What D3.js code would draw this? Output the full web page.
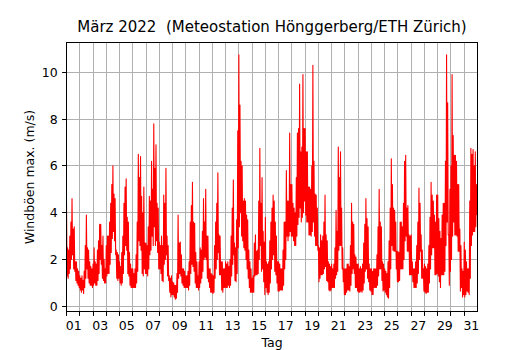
<!DOCTYPE html>
<html><head><meta charset="utf-8">
<script src="https://cdn.jsdelivr.net/npm/d3@7"></script>
<style>
body{margin:0;background:#fff}
svg text{font-family:"DejaVu Sans",sans-serif;fill:#000}
</style>
</head><body><svg id="chart" width="530" height="350"></svg>
<script>
// ---------- data ----------
const titleText = "März 2022  (Meteostation Hönggerberg/ETH Zürich)";
const xLabelText = "Tag";
const yLabelText = "Windböen max. (m/s)";
const startDate = Date.UTC(2022, 2, 1);   // 1 March 2022 00:00
const endDate = Date.UTC(2022, 3, 1);     // 1 April 2022 00:00
const binHours = 2;                       // 12 two-hour bins per day
const dayLabels = ["01","03","05","07","09","11","13","15","17","19","21","23","25","27","29","31"];
const yTicks = [0, 2, 4, 6, 8, 10];
// highest gust (m/s) seen in each 2-hour bin, one row per day (00h ... 22h)
const gustHighByDay = [
  [4.4, 2.5, 2.4, 3.0, 3.6, 4.6, 3.3, 3.4, 1.9, 1.9, 1.6, 1.5],
  [1.3, 1.2, 1.3, 1.1, 1.5, 2.6, 3.9, 2.5, 2.4, 1.9, 1.7, 1.6],
  [1.8, 2.5, 1.9, 1.8, 2.4, 2.8, 3.5, 3.5, 2.6, 3.0, 2.0, 1.6],
  [2.6, 3.0, 3.0, 3.6, 4.4, 5.2, 6.0, 4.8, 4.6, 2.4, 2.3, 2.2],
  [1.9, 1.7, 2.3, 3.0, 4.4, 5.1, 5.45, 3.8, 3.6, 2.3, 1.8, 1.6],
  [1.6, 1.4, 1.6, 2.2, 3.6, 6.5, 5.5, 6.4, 4.7, 4.0, 5.1, 2.7],
  [2.7, 2.6, 3.4, 4.7, 4.5, 6.2, 5.0, 7.8, 5.9, 6.9, 4.4, 4.2],
  [2.75, 2.6, 3.0, 2.6, 4.75, 4.4, 5.9, 3.0, 2.6, 1.3, 1.2, 1.3],
  [1.05, 1.0, 0.9, 0.9, 1.4, 3.9, 2.7, 2.75, 2.2, 1.6, 1.6, 1.5],
  [1.3, 1.3, 1.5, 1.9, 3.6, 4.3, 5.3, 3.6, 3.55, 2.3, 1.9, 1.3],
  [1.9, 2.5, 2.4, 3.2, 4.6, 3.6, 5.0, 3.0, 3.0, 1.6, 1.6, 1.4],
  [1.35, 1.3, 2.6, 3.6, 4.4, 5.7, 3.05, 3.0, 1.9, 1.9, 1.6, 1.6],
  [1.9, 1.8, 1.9, 1.7, 2.0, 3.0, 4.2, 5.4, 2.7, 2.5, 3.7, 7.5],
  [10.75, 8.6, 6.2, 6.0, 4.5, 4.6, 4.5, 3.9, 3.7, 2.4, 1.9, 1.6],
  [1.2, 1.3, 2.7, 3.05, 2.35, 2.4, 4.5, 6.75, 4.4, 5.5, 3.2, 2.75],
  [3.8, 1.9, 1.8, 1.9, 2.8, 3.6, 4.2, 4.75, 4.5, 3.6, 3.0, 1.9],
  [1.9, 1.8, 1.6, 1.6, 2.4, 3.6, 3.6, 5.8, 4.5, 4.5, 7.4, 5.2],
  [5.2, 4.4, 4.2, 4.0, 5.5, 7.4, 7.6, 9.5, 6.6, 6.8, 9.9, 7.6],
  [7.6, 6.6, 6.6, 5.1, 5.1, 5.0, 6.0, 10.3, 6.2, 4.8, 4.75, 4.2],
  [2.6, 2.5, 3.05, 2.8, 3.0, 3.6, 4.75, 3.05, 2.8, 1.9, 1.8, 1.7],
  [1.8, 1.6, 1.8, 2.5, 4.1, 3.2, 6.8, 5.5, 6.6, 4.2, 2.5, 1.6],
  [1.6, 1.6, 1.8, 1.8, 1.7, 2.6, 4.4, 3.6, 3.5, 2.2, 2.1, 1.8],
  [1.8, 1.6, 1.7, 1.6, 1.8, 2.7, 3.5, 4.6, 3.75, 3.4, 1.8, 1.6],
  [1.6, 1.5, 1.6, 1.6, 1.6, 2.2, 3.4, 5.0, 3.6, 3.4, 1.9, 1.8],
  [1.6, 1.5, 1.4, 1.9, 2.8, 4.2, 6.3, 5.2, 4.2, 4.1, 3.6, 2.35],
  [2.35, 2.3, 3.6, 3.6, 3.4, 4.4, 6.2, 6.45, 4.2, 4.3, 3.05, 3.0],
  [3.05, 1.9, 1.6, 1.6, 1.9, 2.6, 3.6, 5.05, 4.4, 3.05, 2.4, 1.6],
  [1.8, 1.7, 1.6, 1.8, 2.6, 3.8, 5.3, 4.75, 4.5, 3.9, 3.6, 4.75],
  [4.75, 3.75, 3.2, 2.9, 3.9, 4.4, 4.4, 6.2, 10.75, 8.7, 3.05, 5.0],
  [6.0, 9.9, 7.3, 6.45, 6.45, 6.2, 5.2, 5.2, 3.3, 2.6, 1.6, 1.5],
  [2.75, 2.4, 1.9, 1.6, 1.6, 4.5, 6.75, 6.5, 6.7, 6.0, 6.6, 5.2]
];
// lowest gust (m/s) seen in each 2-hour bin
const gustLowByDay = [
  [1.3, 1.2, 1.4, 1.6, 2.0, 2.2, 1.6, 1.5, 1.1, 1.0, 0.9, 0.8],
  [0.7, 0.6, 0.7, 0.55, 0.8, 1.2, 1.6, 1.2, 1.0, 0.9, 0.9, 0.8],
  [0.9, 1.0, 0.9, 0.9, 1.1, 1.4, 2.0, 1.8, 1.2, 1.1, 1.0, 1.0],
  [1.3, 1.4, 1.4, 1.8, 2.3, 2.9, 3.2, 2.8, 2.2, 1.2, 1.1, 1.2],
  [1.0, 0.9, 1.0, 1.4, 2.2, 2.6, 2.4, 1.4, 1.3, 0.9, 0.8, 0.8],
  [0.8, 0.8, 0.8, 1.0, 1.5, 2.8, 2.6, 2.4, 1.4, 1.3, 1.6, 1.4],
  [1.4, 1.3, 1.6, 2.2, 2.4, 3.0, 2.6, 3.4, 2.6, 2.8, 2.3, 1.6],
  [1.6, 1.4, 1.1, 1.05, 1.8, 2.0, 2.2, 1.3, 1.1, 0.6, 0.4, 0.5],
  [0.5, 0.4, 0.3, 0.35, 0.6, 1.2, 1.4, 1.3, 1.0, 0.9, 0.8, 0.8],
  [0.8, 0.8, 0.7, 0.9, 1.4, 1.8, 1.7, 1.5, 1.0, 0.8, 0.8, 0.7],
  [0.8, 1.0, 1.2, 1.5, 2.0, 2.1, 2.0, 1.2, 1.05, 0.8, 0.6, 0.6],
  [0.55, 0.6, 1.2, 1.6, 2.0, 2.3, 1.35, 1.35, 0.7, 0.6, 0.8, 0.8],
  [0.8, 0.8, 0.9, 0.8, 0.9, 1.3, 1.8, 2.2, 1.1, 1.05, 1.4, 2.5],
  [3.4, 4.0, 3.0, 2.8, 2.5, 2.4, 2.0, 1.6, 1.2, 0.8, 0.6, 0.6],
  [0.6, 0.6, 1.3, 1.35, 1.35, 1.4, 2.0, 2.6, 1.5, 1.6, 1.05, 0.5],
  [0.8, 0.6, 0.5, 0.6, 1.0, 1.6, 2.0, 2.2, 1.5, 1.35, 1.0, 0.65],
  [0.65, 0.7, 0.7, 0.7, 0.9, 1.6, 2.0, 3.0, 2.8, 3.0, 3.2, 3.0],
  [3.0, 2.8, 2.6, 2.6, 3.0, 3.5, 3.8, 4.2, 3.6, 3.8, 4.0, 4.5],
  [3.9, 3.6, 3.6, 3.05, 3.05, 3.0, 3.2, 3.6, 3.0, 2.6, 2.6, 2.4],
  [1.05, 1.2, 1.35, 1.35, 1.4, 1.6, 1.7, 1.1, 1.05, 0.7, 0.65, 0.7],
  [0.8, 0.8, 0.8, 1.2, 1.35, 1.5, 2.4, 2.6, 2.6, 1.6, 1.05, 0.5],
  [0.5, 0.6, 0.7, 0.7, 0.65, 0.9, 1.4, 1.6, 1.4, 0.8, 0.8, 0.65],
  [0.6, 0.6, 0.65, 0.6, 0.7, 1.0, 1.5, 1.6, 1.2, 1.05, 0.7, 0.65],
  [0.5, 0.5, 0.8, 0.8, 0.8, 0.9, 1.3, 1.6, 1.6, 1.1, 0.65, 0.7],
  [0.6, 0.5, 0.4, 0.35, 0.8, 1.6, 2.6, 2.4, 2.35, 2.35, 1.6, 1.05],
  [1.05, 1.1, 1.6, 1.6, 1.6, 2.0, 2.8, 3.0, 2.35, 2.35, 1.35, 1.35],
  [1.35, 1.05, 0.8, 0.8, 0.8, 1.0, 1.4, 2.0, 2.35, 1.2, 1.2, 0.65],
  [0.6, 0.55, 0.6, 0.6, 1.0, 1.6, 2.2, 2.5, 2.5, 1.35, 1.35, 1.4],
  [1.3, 1.05, 0.8, 1.35, 1.35, 1.35, 1.5, 2.6, 3.6, 3.05, 0.9, 1.5],
  [2.0, 3.0, 3.6, 3.05, 3.05, 3.0, 2.35, 2.35, 0.65, 0.8, 0.4, 0.5],
  [0.4, 0.5, 0.65, 0.6, 0.5, 1.2, 2.6, 3.05, 3.2, 3.2, 3.4, 3.9]
];

// ---------- build records: each bin drawn as its high reading, then its low reading ----------
const records = [];
gustHighByDay.forEach((row, d) => row.forEach((hi, k) => {
  const t0 = startDate + (d * 24 + k * binHours) * 3600e3;
  records.push({t: new Date(t0), v: hi});
  records.push({t: new Date(t0 + binHours * 0.5 * 3600e3), v: gustLowByDay[d][k]});
}));

// ---------- layout ----------
const L = 66.5, R = 477.5, T = 42.5, B = 311.5;
const svg = d3.select("#chart");
const fs = 12.5;

const x = d3.scaleUtc().domain([new Date(startDate), new Date(endDate)]).range([L, R]);
const ext = d3.extent(records, r => r.v);
const pad = (ext[1] - ext[0]) * 0.05;
const y = d3.scaleLinear().domain([ext[0] - pad, ext[1] + pad]).range([B, T]);
const snap = v => Math.round(v - 0.5) + 0.5;

svg.append("defs").append("clipPath").attr("id", "clip")
  .append("rect").attr("x", L).attr("y", T).attr("width", R - L).attr("height", B - T);

const days = d3.utcDay.range(new Date(startDate), new Date(endDate));

// grid
const grid = svg.append("g").attr("stroke", "#b0b0b0").attr("stroke-width", 1);
grid.selectAll("line.v").data(days).join("line").attr("class", "v")
  .attr("x1", d => snap(x(d))).attr("x2", d => snap(x(d))).attr("y1", T).attr("y2", B);
grid.selectAll("line.h").data(yTicks).join("line").attr("class", "h")
  .attr("x1", L).attr("x2", R).attr("y1", d => snap(y(d))).attr("y2", d => snap(y(d)));

// series
const line = d3.line().x(r => x(r.t)).y(r => y(r.v));
svg.append("path").datum(records).attr("clip-path", "url(#clip)")
  .attr("fill", "none").attr("stroke", "#ff0000").attr("stroke-width", 1.1)
  .attr("stroke-linejoin", "round").attr("d", line);

// frame
svg.append("rect").attr("x", L).attr("y", T).attr("width", R - L).attr("height", B - T)
  .attr("fill", "none").attr("stroke", "#000").attr("stroke-width", 1);

// x axis: tick marks at midnight
const xAxisMarks = d3.axisBottom(x).tickValues(days).tickSize(4.4).tickFormat("");
const gx = svg.append("g").attr("transform", `translate(0,${B})`).call(xAxisMarks);
gx.select(".domain").remove();
gx.selectAll(".tick").attr("transform", d => `translate(${snap(x(d))},0)`);
gx.selectAll(".tick line").attr("stroke", "#000").attr("stroke-width", 1);

// x axis labels at noon of odd days
const labelDates = dayLabels.map(s => new Date(startDate + ((+s - 1) * 24 + 12) * 3600e3));
const xAxisLabels = d3.axisBottom(x).tickValues(labelDates).tickSize(0)
  .tickFormat((d, i) => dayLabels[i]);
const gl = svg.append("g").attr("transform", `translate(0,${B})`).call(xAxisLabels);
gl.select(".domain").remove();
gl.selectAll(".tick text").attr("y", 0).attr("dy", null)
  .attr("transform", "translate(0,18.5)").style("font-size", fs + "px")
  .attr("font-family", null);

// y axis
const yAxis = d3.axisLeft(y).tickValues(yTicks).tickSize(4.4).tickPadding(4.4).tickFormat(d3.format("d"));
const gy = svg.append("g").attr("transform", `translate(${L},0)`).call(yAxis);
gy.select(".domain").remove();
gy.selectAll(".tick").attr("transform", d => `translate(0,${snap(y(d))})`);
gy.selectAll(".tick line").attr("stroke", "#000").attr("stroke-width", 1);
gy.selectAll(".tick text").attr("dy", null).attr("y", 4.5).attr("x", -8.8)
  .style("font-size", fs + "px").attr("font-family", null);

// labels
svg.append("text").attr("x", (L + R) / 2).attr("y", 31.5).attr("text-anchor", "middle")
  .style("font-size", "15px").style("white-space", "pre").text(titleText);
svg.append("text").attr("x", (L + R) / 2).attr("y", 347).attr("text-anchor", "middle")
  .style("font-size", fs + "px").text(xLabelText);
svg.append("text").attr("transform", `translate(33.5,${(T + B) / 2}) rotate(-90)`)
  .attr("text-anchor", "middle").style("font-size", fs + "px").text(yLabelText);
</script>
</body></html>
